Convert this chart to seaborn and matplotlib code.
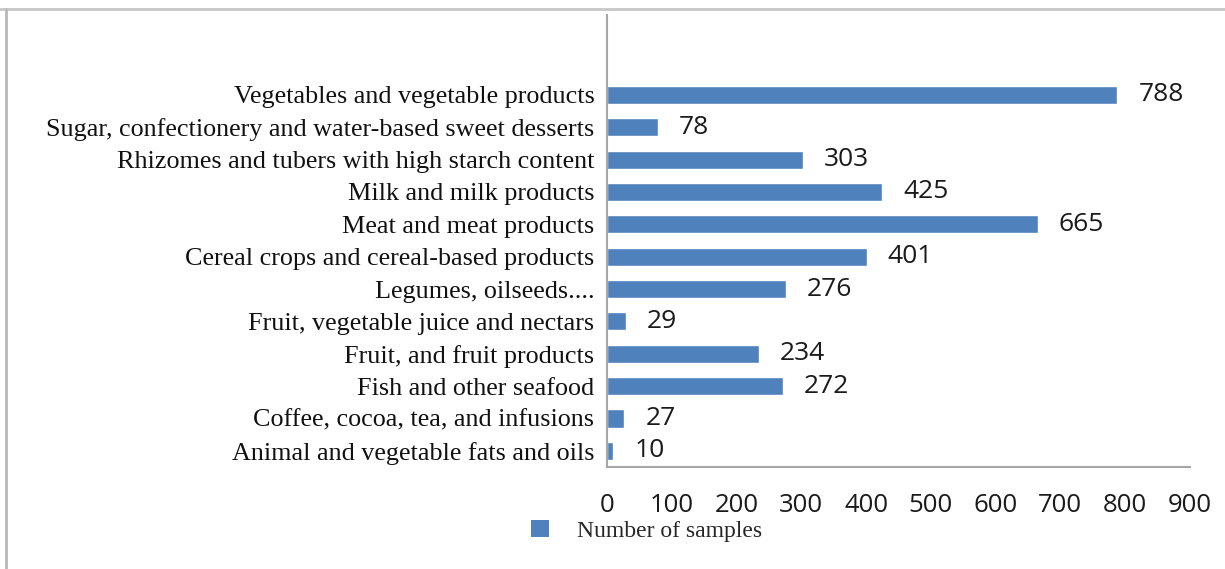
import matplotlib
matplotlib.use("Agg")
import matplotlib.pyplot as plt
import seaborn as sns
import pandas as pd
from matplotlib.lines import Line2D
from matplotlib.patches import Patch

# Food groups, listed bottom to top as they appear on the chart
categories = [
    "Animal and vegetable fats and oils",
    "Coffee, cocoa, tea, and infusions",
    "Fish and other seafood",
    "Fruit, and fruit products",
    "Fruit, vegetable juice and nectars",
    "Legumes, oilseeds....",
    "Cereal crops and cereal-based products",
    "Meat and meat products",
    "Milk and milk products",
    "Rhizomes and tubers with high starch content",
    "Sugar, confectionery and water-based sweet desserts",
    "Vegetables and vegetable products",
]
samples = [10, 27, 272, 234, 29, 276, 401, 665, 425, 303, 78, 788]
x_ticks = [0, 100, 200, 300, 400, 500, 600, 700, 800, 900]
series_name = "Number of samples"

BAR_COLOR = "#4F81BD"
AXIS_COLOR = "#A6A6A6"
SERIF = ["Liberation Serif", "DejaVu Serif"]
SANS = ["Open Sans", "DejaVu Sans"]

sns.set_theme(style="white")
plt.rcParams["font.family"] = SANS

df = pd.DataFrame({"category": categories[::-1], "samples": samples[::-1]})

fig = plt.figure(figsize=(12.25, 5.69), dpi=100)
ax = fig.add_axes([0.4955, 0.1793, 0.4759, 0.7943])

sns.barplot(data=df, y="category", x="samples", orient="h", color=BAR_COLOR,
            saturation=1, width=0.56, ax=ax, order=categories[::-1])

# top category sits at index 0 in seaborn's categorical axis; leave headroom above it
ax.set_ylim(11.5, -2.47)
ax.set_xlim(0, 900)
ax.set_xticks(x_ticks)
ax.set_xticklabels([str(t) for t in x_ticks], fontsize=18.5, family=SANS, color="#1a1a1a")
ax.tick_params(axis="x", length=0, pad=19)
ax.tick_params(axis="y", length=0, pad=9)
for lab in ax.get_yticklabels():
    lab.set_family(SERIF)
    lab.set_fontsize(18.8)
    lab.set_color("#111111")
ax.set_xlabel("")
ax.set_ylabel("")

for side in ["top", "right"]:
    ax.spines[side].set_visible(False)
for side in ["left", "bottom"]:
    ax.spines[side].set_color(AXIS_COLOR)
    ax.spines[side].set_linewidth(1.5)

# value labels at the end of each bar
for cont in ax.containers:
    ax.bar_label(cont, labels=[str(v) for v in samples[::-1]], padding=15,
                 fontsize=19, family=SANS, color="#1a1a1a")

# legend below the axis
handle = Patch(facecolor=BAR_COLOR, edgecolor="none")
fig.legend([handle], [series_name], loc="center", bbox_to_anchor=(0.528, 0.067),
           frameon=False, prop={"family": SERIF, "size": 17},
           handlelength=0.75, handleheight=0.75, handletextpad=1.2)

# light outer frame along top and left edges
fig.add_artist(Line2D([0.0, 1.0], [1 - 9 / 569, 1 - 9 / 569], transform=fig.transFigure,
                      color="#C8C8C8", linewidth=2))
fig.add_artist(Line2D([6 / 1225, 6 / 1225], [0.0, 1 - 9 / 569], transform=fig.transFigure,
                      color="#B8B8B8", linewidth=2))

fig.savefig("out.png", dpi=100, facecolor="white")
